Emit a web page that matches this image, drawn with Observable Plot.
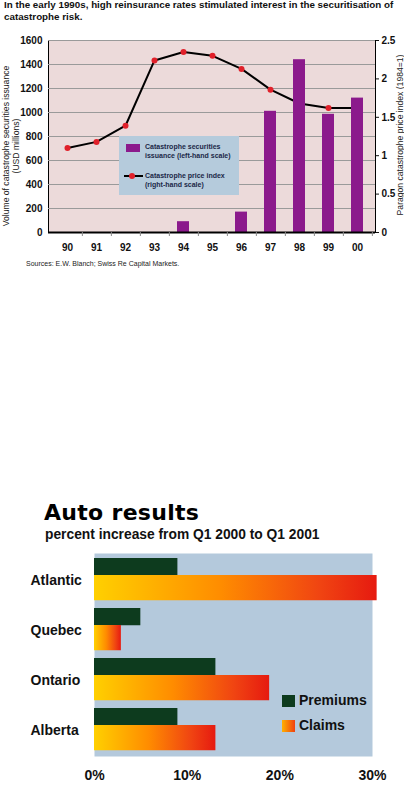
<!DOCTYPE html>
<html><head><meta charset="utf-8">
<script src="https://cdn.jsdelivr.net/npm/d3@7"></script>
<script src="https://cdn.jsdelivr.net/npm/@observablehq/plot@0.6"></script>
<style>
body{margin:0;background:#fff;}
#wrap{position:relative;width:404px;height:787px;overflow:hidden;font-family:"Liberation Sans",Arial,sans-serif;color:#111;}
.abs{position:absolute;white-space:nowrap;}
#c1,#c2{position:absolute;left:0;}
#c1{top:0;}
#c2{top:540px;}
</style></head><body><div id="wrap">
<div class="abs" style="left:4px;top:-1px;font-size:9.8px;font-weight:bold;line-height:12px;color:#111">In the early 1990s, high reinsurance rates stimulated interest in the securitisation of<br>catastrophe risk.</div>
<div id="c1"></div>
<div class="abs" style="left:6px;top:146px;width:0;height:0;"><div style="position:absolute;transform:translate(-50%,-50%) rotate(-90deg);font-size:8.6px;line-height:10px;text-align:center;color:#222;left:5px;top:0;">Volume of catastrophe securities issuance<br>(USD millions)</div></div>
<div class="abs" style="left:400px;top:135px;width:0;height:0;"><div style="position:absolute;transform:translate(-50%,-50%) rotate(-90deg);font-size:8.6px;line-height:10px;color:#222;left:0;top:0;">Paragon catastrophe price index (1984=1)</div></div>
<div class="abs" style="left:119px;top:136px;width:120px;height:59px;background:#b5cbdc;"></div>
<div class="abs" style="left:126px;top:144px;width:14px;height:8px;background:#8b1a8c;"></div>
<div class="abs" style="left:145px;top:142px;font-size:7px;line-height:9px;font-weight:bold;color:#1b2848;">Catastrophe securities<br>issuance (left-hand scale)</div>
<div class="abs" style="left:124px;top:175px;width:19px;height:2px;background:#000;"></div>
<div class="abs" style="left:129px;top:173px;width:6px;height:6px;border-radius:3px;background:#e0202a;"></div>
<div class="abs" style="left:145px;top:171px;font-size:7px;line-height:9px;font-weight:bold;color:#1b2848;">Catastrophe price index<br>(right-hand scale)</div>
<div class="abs" style="left:26px;top:260px;font-size:7px;color:#222;">Sources: E.W. Blanch; Swiss Re Capital Markets.</div>

<div class="abs" style="left:44px;top:501px;font-size:22px;line-height:24px;font-weight:900;font-family:'DejaVu Sans',sans-serif;color:#000;letter-spacing:0.3px;">Auto results</div>
<div class="abs" style="left:45px;top:527px;font-size:13.8px;line-height:16px;font-weight:bold;color:#111;">percent increase from Q1 2000 to Q1 2001</div>
<div id="c2"></div>
<div class="abs" style="left:282px;top:695px;width:13px;height:12px;background:#0d3b1e;"></div>
<div class="abs" style="left:299px;top:692px;font-size:14px;font-weight:bold;color:#111;">Premiums</div>
<div class="abs" style="left:282px;top:720px;width:13px;height:12px;background:linear-gradient(90deg,#ffb000,#f04010);"></div>
<div class="abs" style="left:299px;top:717px;font-size:14px;font-weight:bold;color:#111;">Claims</div>
</div>
<script>
// Chart 1 data
const years = ["90","91","92","93","94","95","96","97","98","99","00"];
const issuance = [0,0,0,0,90,0,170,1010,1440,985,1120];
const priceIndex = [1.10,1.18,1.39,2.24,2.35,2.30,2.13,1.86,1.68,1.62,1.62];
const leftTicks = [0,200,400,600,800,1000,1200,1400,1600];
const rightTicks = [0,0.5,1,1.5,2,2.5];
const RATIO = 1600/2.5;

// Chart 2 data
const regions = ["Atlantic","Quebec","Ontario","Alberta"];
const premiums = [9.0,5.0,13.1,9.0];
const claims = [30.5,2.9,18.9,13.1];
const xTicks = [0,10,20,30];

const data1 = years.map((y,i)=>({year:y, issuance:issuance[i], price:priceIndex[i]}));
const step1 = 327/years.length;

const p1 = Plot.plot({
  width:404, height:270, marginLeft:48, marginRight:29, marginTop:40, marginBottom:38,
  style:{fontFamily:"Liberation Sans, Arial, sans-serif", fontWeight:"bold", fontSize:"10px", color:"#111", background:"transparent", overflow:"visible"},
  x:{type:"band", domain:years, paddingInner:0.6, paddingOuter:0.3},
  y:{domain:[0,1600]},
  marks:[
    Plot.frame({fill:"#ecdada", stroke:"#000"}),
    Plot.gridY(leftTicks, {stroke:"#9a9a9a", strokeOpacity:1}),
    Plot.line(data1, {x:"year", y:d=>d.price*RATIO, stroke:"#000", strokeWidth:2}),
    Plot.dot(data1, {x:"year", y:d=>d.price*RATIO, r:3, fill:"#e0202a"}),
    Plot.barY(data1.filter(d=>d.issuance>0), {x:"year", y:"issuance", fill:"#8b1a8c"}),
    Plot.ruleY([0], {stroke:"#000", strokeWidth:2}),
    Plot.axisY(leftTicks, {anchor:"left", tickSize:0, tickPadding:6, tickFormat:d=>String(d), label:null}),
    Plot.axisY(rightTicks.map(d=>d*RATIO), {anchor:"right", tickSize:3, tickPadding:3, tickFormat:d=>String(d/RATIO), label:null}),
    Plot.axisX({tickSize:0, tickPadding:11, label:null}),
    Plot.axisX({tickSize:4, tickFormat:()=>"", dx:step1/2, stroke:"#888", label:null})
  ]
});
document.getElementById("c1").appendChild(p1);

const data2 = regions.map((r,i)=>({region:r, premium:premiums[i], claim:claims[i]}));
const bw = 203/4;
const p2 = Plot.plot({
  width:404, height:247, marginLeft:94, marginRight:32, marginTop:13, marginBottom:31,
  style:{fontFamily:"Liberation Sans, Arial, sans-serif", fontWeight:"bold", fontSize:"14px", color:"#111", background:"transparent", overflow:"visible"},
  x:{domain:[0,30]},
  y:{type:"band", domain:regions, padding:0},
  marks:[
    Plot.frame({fill:"#b4c9dc"}),
    Plot.barX(data2, {y:"region", x:"premium", fill:"#0d3b1e", insetTop:3, insetBottom:bw-21}),
    Plot.barX(data2, {y:"region", x:"claim", fill:"url(#claimsGrad)", insetTop:20, insetBottom:bw-46}),
    Plot.axisY({tickSize:0, textAnchor:"start", dx:-55, label:null, fontSize:14}),
    Plot.axisX(xTicks, {tickSize:0, tickPadding:14, tickFormat:d=>d+"%", label:null, fontSize:14})
  ]
});
d3.select(p2).append("defs").html(
  '<linearGradient id="claimsGrad" x1="0" x2="1" y1="0" y2="0">' +
  '<stop offset="0" stop-color="#ffd000"/>' +
  '<stop offset="0.45" stop-color="#ff8c00"/>' +
  '<stop offset="0.8" stop-color="#f04412"/>' +
  '<stop offset="1" stop-color="#e61a10"/>' +
  '</linearGradient>');
document.getElementById("c2").appendChild(p2);
</script>
</body></html>
